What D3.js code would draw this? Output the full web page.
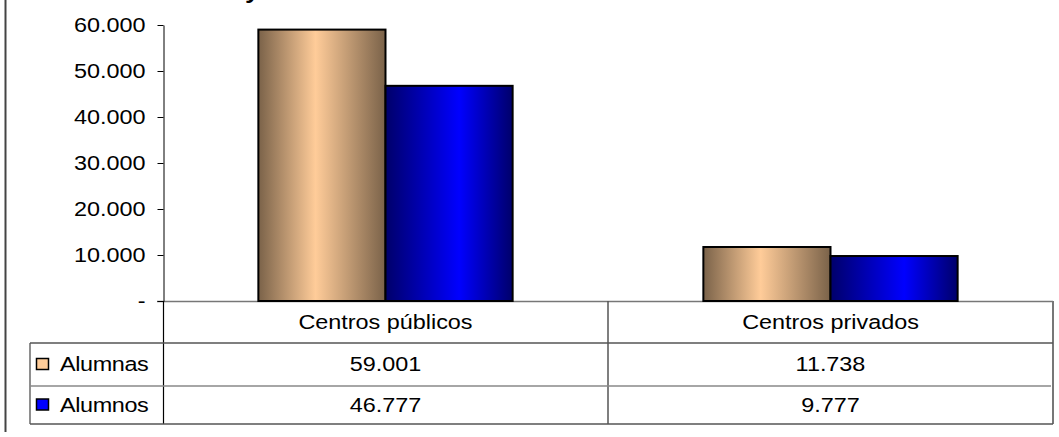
<!DOCTYPE html>
<meta charset="utf-8">
<style>
body { margin: 0; background: #fff; }
svg { display: block; }
text { font-family: Arial, "Liberation Sans", sans-serif; fill: #000; }
</style>
<body>
<script src="https://d3js.org/d3.v7.min.js"></script>
<script>
// data
var categories = ["Centros públicos", "Centros privados"];
var series = ["Alumnas", "Alumnos"];
var alumnas = [59001, 11738];
var alumnos = [46777, 9777];
var yTicks = [0, 10000, 20000, 30000, 40000, 50000, 60000];
var titleLine = "y sexo en la Comunidad. Curso 2005-2006";

var W = 1059, H = 437;
var sx = 1.2; // the original text is stretched horizontally
var plotTop = 25, plotBottom = 301, axisX = 163, right = 1053;
var tableLeft = 30, rowLines = [343, 386, 424];

var svg = d3.select("body").append("svg")
    .attr("width", W)
    .attr("height", H);

var defs = svg.append("defs");
function grad(id, edge, mid, at) {
  var g = defs.append("linearGradient").attr("id", id)
      .attr("x1", "0%").attr("x2", "100%").attr("y1", "0%").attr("y2", "0%");
  g.append("stop").attr("offset", "0%").attr("stop-color", edge);
  g.append("stop").attr("offset", at).attr("stop-color", mid);
  g.append("stop").attr("offset", "100%").attr("stop-color", edge);
}
grad("g0", "#7a6249", "#ffcc99", "45%");
grad("g1", "#00006a", "#0000ff", "58%");
var fills = ["url(#g0)", "url(#g1)"];
var keyFills = ["#ffcc99", "#0000ff"];
var values = [alumnas, alumnos];

// scales
var x = d3.scaleBand().domain(categories).range([axisX, right]).padding(0);
var xi = d3.scaleBand().domain(series).range([0, x.bandwidth()])
    .paddingInner(0).paddingOuter(0.75);
var y = d3.scaleLinear().domain([0, 60000]).range([plotBottom, plotTop]);

var loc = d3.formatLocale({decimal: ",", thousands: ".", grouping: [3], currency: ["", "€"]});
var fmt = loc.format(",d");
function label(v) { return v === 0 ? "-" : fmt(v); }

// outer frame (left edge)
svg.append("line")
    .attr("x1", 5.5).attr("x2", 5.5).attr("y1", 0).attr("y2", 432)
    .attr("stroke", "#444").attr("stroke-width", 2);

// title, cut off at the top like in the original
svg.append("text")
    .attr("transform", "translate(245,-2) scale(" + sx + ",1)")
    .style("font-size", "22px").style("font-weight", "bold")
    .text(titleLine);

// baseline
svg.append("line")
    .attr("x1", axisX - 6).attr("x2", right).attr("y1", y(0) + 0.5).attr("y2", y(0) + 0.5)
    .attr("stroke", "#777").attr("stroke-width", 1.5);

// bars
series.forEach(function(s, si) {
  svg.append("g").selectAll("rect")
    .data(categories)
    .join("rect")
      .attr("x", function(c) { return x(c) + xi(s); })
      .attr("y", function(c, i) { return y(values[si][i]); })
      .attr("width", xi.bandwidth())
      .attr("height", function(c, i) { return y(0) - y(values[si][i]); })
      .attr("fill", fills[si])
      .attr("stroke", "#000")
      .attr("stroke-width", 2);
});

// y axis
var ax = svg.append("g")
    .attr("transform", "translate(" + (axisX + 0.5) + ",0)")
    .call(d3.axisLeft(y).tickValues(yTicks).tickFormat(label).tickSize(6).tickSizeOuter(0));
ax.select(".domain").attr("stroke", "#000");
ax.selectAll(".tick line").attr("stroke", "#000");
ax.selectAll("text")
    .attr("x", -15)
    .attr("transform", "scale(" + sx + ",1)")
    .style("font-size", "19.5px")
    .attr("fill", "#000");

// data table
var tl = svg.append("g").attr("fill", "none");
tl.append("line").attr("x1", axisX + 0.5).attr("x2", axisX + 0.5)
    .attr("y1", plotBottom).attr("y2", rowLines[2]).attr("stroke", "#000").attr("stroke-width", 1.2);
categories.forEach(function(c, i) {
  if (i > 0) tl.append("line").attr("x1", x(c)).attr("x2", x(c))
      .attr("y1", plotBottom).attr("y2", rowLines[2]).attr("stroke", "#555").attr("stroke-width", 1.5);
});
tl.append("line").attr("x1", right).attr("x2", right)
    .attr("y1", plotBottom).attr("y2", rowLines[2]).attr("stroke", "#777").attr("stroke-width", 2);
tl.append("line").attr("x1", tableLeft).attr("x2", tableLeft)
    .attr("y1", rowLines[0]).attr("y2", rowLines[2]).attr("stroke", "#444").attr("stroke-width", 1.2);
rowLines.forEach(function(ry, i) {
  tl.append("line").attr("x1", tableLeft).attr("x2", i === 1 ? right - 2 : right)
      .attr("y1", ry).attr("y2", ry)
      .attr("stroke", i === 1 ? "#888" : "#555").attr("stroke-width", 1.5);
});

// header row
svg.append("g").selectAll("text")
  .data(categories)
  .join("text")
    .attr("transform", function(c) {
      return "translate(" + (x(c) + x.bandwidth() / 2) + "," + ((plotBottom + rowLines[0]) / 2) + ") scale(" + sx + ",1)";
    })
    .attr("text-anchor", "middle").attr("dy", "0.35em")
    .style("font-size", "19.5px")
    .text(function(c) { return c; });

// value rows with legend keys
series.forEach(function(s, si) {
  var top = rowLines[si], bot = rowLines[si + 1];
  var cy = (top + bot) / 2;
  svg.append("rect")
      .attr("x", 36.5).attr("y", cy - 6).attr("width", 12).attr("height", 11)
      .attr("fill", keyFills[si]).attr("stroke", "#000").attr("stroke-width", 1.5);
  svg.append("text")
      .attr("transform", "translate(60," + cy + ") scale(1.2,1)")
      .attr("dy", "0.35em").style("font-size", "19.5px").style("letter-spacing", "-0.3px")
      .text(s);
  svg.append("g").selectAll("text")
    .data(categories)
    .join("text")
      .attr("transform", function(c) {
        return "translate(" + (x(c) + x.bandwidth() / 2) + "," + cy + ") scale(" + sx + ",1)";
      })
      .attr("text-anchor", "middle").attr("dy", "0.35em")
      .style("font-size", "19.5px")
      .text(function(c, i) { return fmt(values[si][i]); });
});
</script>
</body>
